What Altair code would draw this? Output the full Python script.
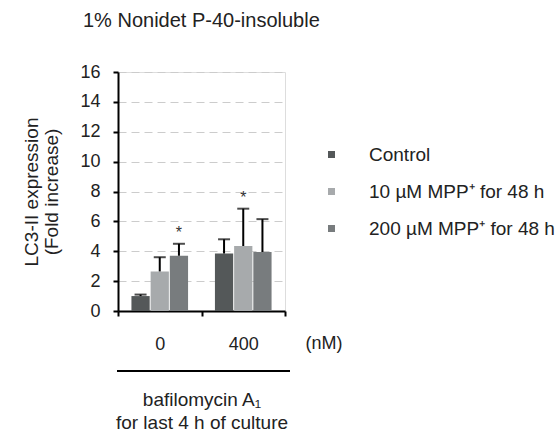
import altair as alt
import pandas as pd

groups = ["0", "400"]
series = ["Control", "10 µM MPP⁺ for 48 h", "200 µM MPP⁺ for 48 h"]
colors = ["#545859", "#a7aaac", "#787c7e"]
means = [1.0, 2.65, 3.7, 3.85, 4.35, 3.95]
sds = [0.1, 0.95, 0.8, 0.95, 2.5, 2.2]
sig = [False, False, True, False, True, False]
y_ticks = [0, 2, 4, 6, 8, 10, 12, 14, 16]

rows = []
i = 0
for g in groups:
    for s in series:
        rows.append({"dose": g, "series": s, "mean": means[i],
                     "upper": means[i] + sds[i], "sig": "*" if sig[i] else ""})
        i += 1
df = pd.DataFrame(rows)

FONT = "Liberation Sans"
TXT = "#222222"

x_enc = alt.X("dose:N", sort=groups,
              scale=alt.Scale(paddingInner=0, paddingOuter=0),
              axis=alt.Axis(title=["bafilomycin A₁", "for last 4 h of culture"],
                            titleFontSize=19, titleFontWeight="normal", titleColor=TXT,
                            titleFont=FONT, titlePadding=37, titleLineHeight=23,
                            labelAngle=0, labelFontSize=18, labelFont=FONT, labelColor=TXT,
                            labelPadding=19, tickBand="extent", tickSize=5,
                            tickColor="black", tickWidth=2, domainColor="black",
                            domainWidth=2, grid=False))
xo_enc = alt.XOffset("series:N", sort=series,
                     scale=alt.Scale(paddingInner=0.05, paddingOuter=0.7))

y_axis = alt.Axis(values=y_ticks, labelOverlap=False,
                  title=["LC3-II expression", "(Fold increase)"],
                  titleFontSize=19, titleFontWeight="normal", titleColor=TXT,
                  titleFont=FONT, titlePadding=18, titleLineHeight=20,
                  labelFontSize=18, labelFont=FONT, labelColor=TXT,
                  labelPadding=13, tickSize=5, tickColor="black", tickWidth=2,
                  domainColor="black", domainWidth=2,
                  grid=True, gridColor="#cccccc", gridDash=[8, 5], gridWidth=1)

bars = alt.Chart(df).mark_bar().encode(
    x=x_enc,
    xOffset=xo_enc,
    y=alt.Y("mean:Q", scale=alt.Scale(domain=[0, 16]), axis=y_axis),
    color=alt.Color("series:N", sort=series,
                    scale=alt.Scale(domain=series, range=colors),
                    legend=alt.Legend(title=None, orient="none", legendX=204, legendY=73,
                                      symbolType="square", symbolSize=49,
                                      symbolStrokeWidth=0, labelFontSize=19,
                                      labelFont=FONT, labelColor=TXT, labelOffset=28,
                                      labelLimit=400, rowPadding=17, padding=0)),
)

stems = alt.Chart(df).mark_rule(color="black", strokeWidth=2).encode(
    x=alt.X("dose:N", sort=groups), xOffset=alt.XOffset("series:N", sort=series),
    y=alt.Y("mean:Q", axis=y_axis), y2="upper:Q")

caps = alt.Chart(df).mark_tick(color="black", size=12, thickness=2).encode(
    x=alt.X("dose:N", sort=groups), xOffset=alt.XOffset("series:N", sort=series),
    y=alt.Y("upper:Q", axis=y_axis))

stars = alt.Chart(df).transform_filter("datum.sig != ''").mark_text(
    fontSize=16, font=FONT, color="#333333", dy=-11, baseline="middle").encode(
    x=alt.X("dose:N", sort=groups), xOffset=alt.XOffset("series:N", sort=series),
    y=alt.Y("upper:Q", axis=y_axis), text="sig:N")

title = alt.Chart(pd.DataFrame({"t": ["1% Nonidet P-40-insoluble"]})).mark_text(
    fontSize=20, font=FONT, color=TXT, align="left", baseline="alphabetic").encode(
    x=alt.value(-35), y=alt.value(-45), text="t:N")

unit = alt.Chart(pd.DataFrame({"t": ["(nM)"]})).mark_text(
    fontSize=18, font=FONT, color=TXT, align="center", baseline="middle").encode(
    x=alt.value(206), y=alt.value(272), text="t:N")

underline = alt.Chart(pd.DataFrame({"t": [1]})).mark_rule(color="black", strokeWidth=2).encode(
    x=alt.value(-1), x2=alt.value(172), y=alt.value(299))

chart = alt.layer(bars, stems, caps, stars, title, unit, underline).properties(
    width=167, height=239,
    autosize=alt.AutoSizeParams(type="none"),
    padding={"left": 118, "top": 72, "right": 274, "bottom": 127},
).configure_view(stroke=None).configure(background="white")

chart.save("out.html", embed_options={"renderer": "svg", "actions": False})
